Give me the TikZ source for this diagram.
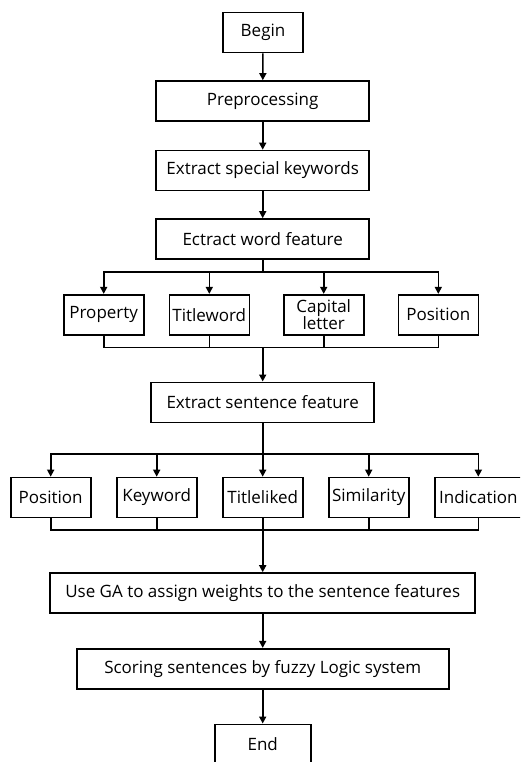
\documentclass[tikz,border=0pt]{standalone}
\usepackage{fontspec}
\setmainfont{Open Sans}
\usetikzlibrary{arrows.meta}

\begin{document}
\begin{tikzpicture}[x=1pt, y=-1pt,
  every node/.style={draw, rectangle, line width=1.6pt, inner sep=0pt, minimum height=40pt, align=center, font=\fontsize{17}{17}\selectfont},
  flow/.style={line width=1.6pt, -{Triangle[length=7pt,width=7pt]}},
  link/.style={line width=1.6pt},
  trunk/.style={line width=2.4pt, -{Triangle[length=7pt,width=7pt]}}]
\useasboundingbox (0,0) rectangle (520,762);
\clip (0,0) rectangle (520,762);
\node[minimum width=80pt] (B) at (263,32.5) {Begin};
\node[minimum width=213pt] (P) at (262.7,101) {Preprocessing};
\node[minimum width=213pt] (K) at (262.7,170.5) {Extract special keywords};
\node[minimum width=213pt] (W) at (262.7,239) {Ectract word feature};
\node[minimum width=80pt] (W1) at (103.7,314.7) {Property};
\node[minimum width=80pt] (W2) at (209.3,314.7) {Titleword};
\node[minimum width=80pt] (W3) at (323.7,314.7) {Capital\\letter};
\node[minimum width=80pt] (W4) at (438.3,314.7) {Position};
\node[minimum width=223pt] (S) at (262.7,402.3) {Extract sentence feature};
\node[minimum width=80pt] (S1) at (50.7,497.5) {Position};
\node[minimum width=80pt] (S2) at (156.7,497.5) {Keyword};
\node[minimum width=80pt] (S3) at (262.7,497.5) {Titleliked};
\node[minimum width=80pt] (S4) at (368.7,497.5) {Similarity};
\node[minimum width=87pt] (S5) at (478.3,497.5) {Indication};
\node[minimum width=425pt] (G) at (262.7,593) {Use GA to assign weights to the sentence features};
\node[minimum width=372pt] (F) at (262.7,668.7) {Scoring sentences by fuzzy Logic system};
\node[minimum width=96pt] (E) at (262.7,744.3) {End};
\coordinate (WB) at (262.7,271.7);
\coordinate (WM) at (262.7,347.3);
\coordinate (SB) at (262.7,454);
\coordinate (SM) at (262.7,530);
\draw[flow] (B) -- (P);
\draw[flow] (P) -- (K);
\draw[flow] (K) -- (W);
\draw[link] (W) -- (WB);
\foreach \n in {W1,W2,W3,W4} {
  \draw[flow] (WB) -| (\n);
  \draw[link] (\n) |- (WM);
}
\draw[trunk] (WM) -- (S);
\draw[trunk, -] (S) -- (SB);
\foreach \n in {S1,S2,S3,S4,S5} {
  \draw[flow] (SB) -| (\n);
  \draw[link] (\n) |- (SM);
}
\draw[trunk] (SM) -- (G);
\draw[flow] (G) -- (F);
\draw[flow] (F) -- (E);
\end{tikzpicture}
\end{document}
